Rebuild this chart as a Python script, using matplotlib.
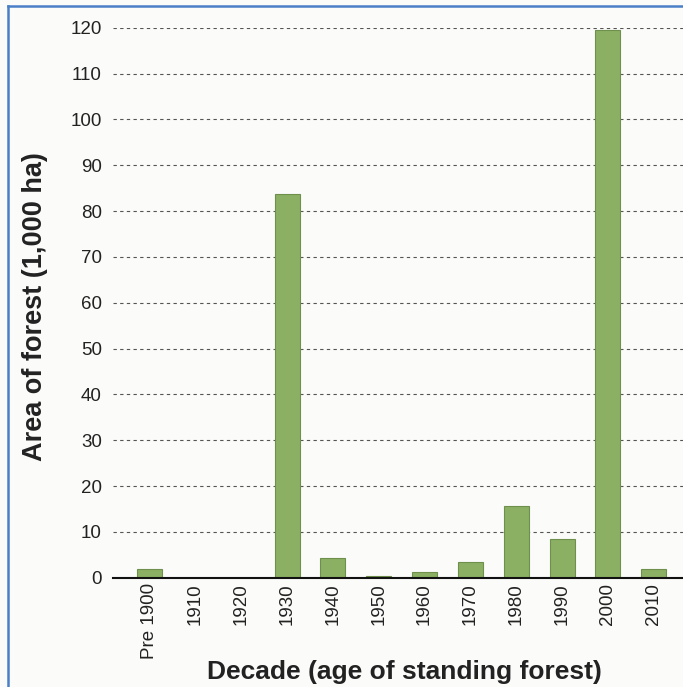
import matplotlib
matplotlib.use("Agg")
import matplotlib.pyplot as plt
from matplotlib.lines import Line2D

plt.rcParams['font.family'] = ['Liberation Sans', 'DejaVu Sans']

# decade labels and forest area (1,000 ha)
decades = ['Pre 1900', '1910', '1920', '1930', '1940', '1950',
           '1960', '1970', '1980', '1990', '2000', '2010']
area = [1.9, 0, 0, 83.7, 4.4, 0.4, 1.3, 3.4, 15.6, 8.5, 119.6, 2.0]
yticks = list(range(0, 121, 10))

W, H = 683, 687
fig = plt.figure(figsize=(W / 100, H / 100), dpi=100)
fig.patch.set_facecolor('#fbfbfa')

# axes placed in pixels: left 113, bottom 577.7, top 27.7, runs off right edge
ax = fig.add_axes([113 / W, (H - 577.7) / H, 1 - 113 / W, 550 / H])
ax.set_facecolor('#fbfbfa')

x = list(range(len(decades)))
ax.bar(x, area, width=0.545, color='#8bb063', edgecolor='#6f8f4c',
       linewidth=0.8, zorder=3)

ax.set_xlim(-0.8, 11.64)
ax.set_ylim(0, 120)
ax.set_yticks(yticks)
ax.set_xticks(x)
ax.set_xticklabels(decades, rotation=90, fontsize=13.5, color='#222222')
ax.tick_params(axis='y', length=0, pad=8, labelsize=13.5, labelcolor='#222222')
ax.tick_params(axis='x', length=0, pad=4)

# dashed gridlines, solid baseline
ax.yaxis.grid(True, linestyle=(0, (3, 3)), color='#555555', linewidth=0.8,
              zorder=1)
for s in ['left', 'right', 'top']:
    ax.spines[s].set_visible(False)
ax.spines['bottom'].set_linewidth(1.5)
ax.spines['bottom'].set_color('#111111')
ax.spines['bottom'].set_zorder(4)

fig.text(35 / W, (H - 307) / H, 'Area of forest (1,000 ha)', rotation=90,
         ha='center', va='center', fontsize=19.5, fontweight='bold',
         color='#222222')
# kept slightly higher than the scan so the descenders stay inside
fig.text(404.5 / W, (H - 679) / H, 'Decade (age of standing forest)',
         ha='center', va='baseline', fontsize=19, fontweight='bold',
         color='#222222')

# blue frame around the picture (left and top edges)
fig.add_artist(Line2D([8 / W, 8 / W], [0, (H - 6) / H],
                      color='#4a7fc8', linewidth=1.8))
fig.add_artist(Line2D([8 / W, 1], [(H - 6) / H, (H - 6) / H],
                      color='#4a7fc8', linewidth=1.8))

fig.savefig('out.png', dpi=100, facecolor=fig.get_facecolor())
